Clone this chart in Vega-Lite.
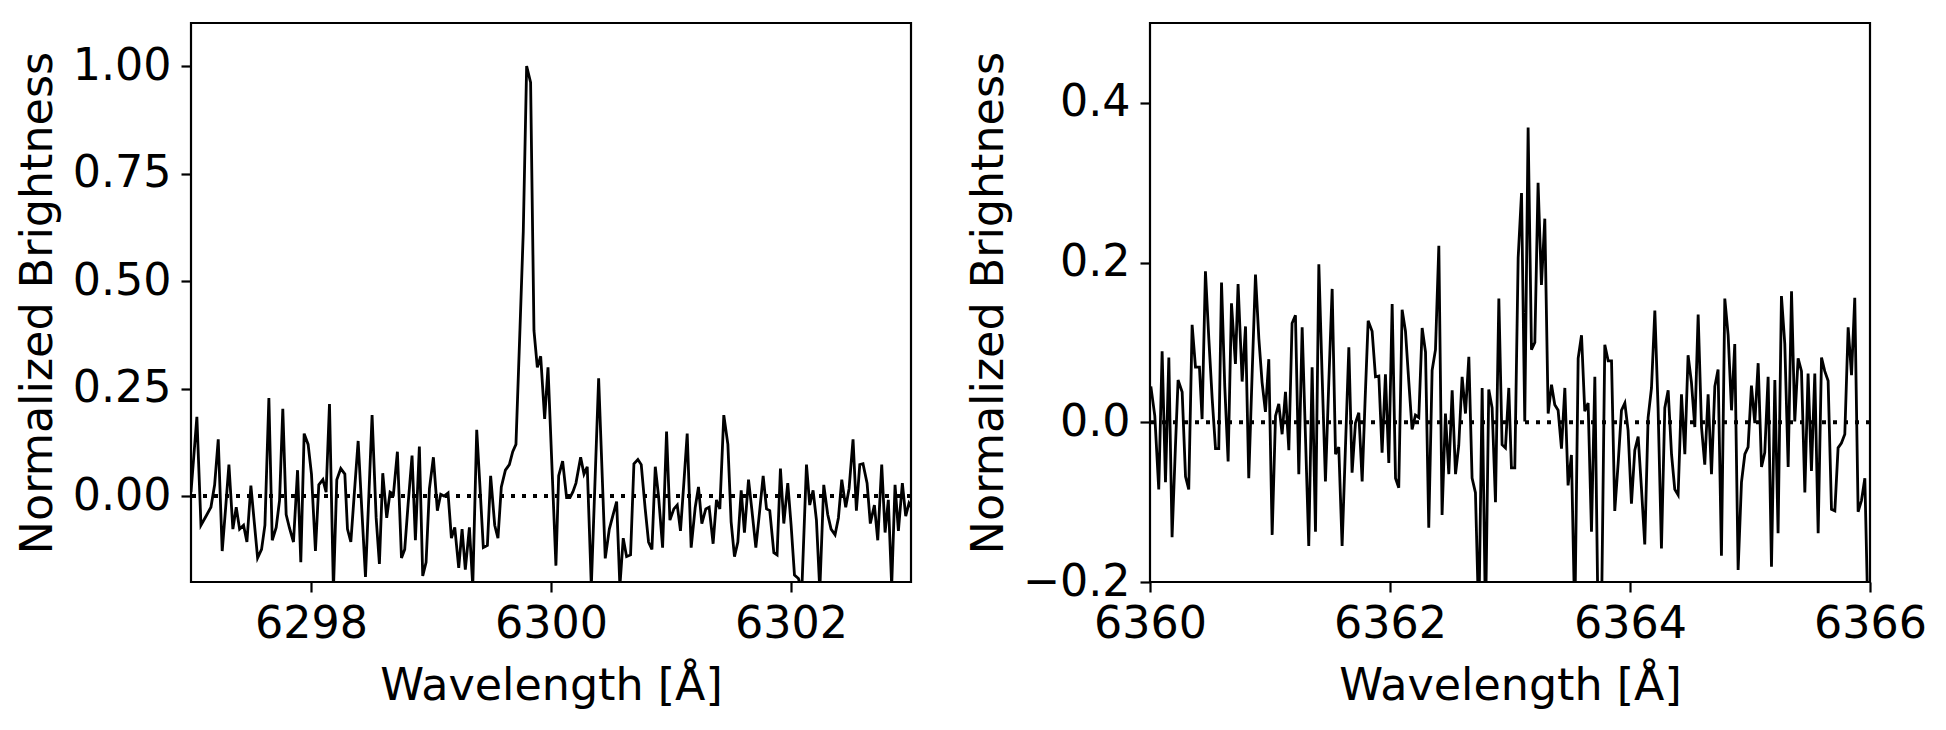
{
  "$schema": "https://vega.github.io/schema/vega-lite/v6.json",
  "padding": {"left": 14, "top": 21, "right": 5, "bottom": 5},
  "background": "white",
  "config": {
    "font": "DejaVu Sans",
    "view": {"stroke": "black", "strokeWidth": 2.2},
    "axis": {
      "grid": false, "domain": false,
      "labelFont": "DejaVu Sans", "titleFont": "DejaVu Sans",
      "labelFontSize": 44.4, "titleFontSize": 44.4, "titleFontWeight": "normal",
      "labelColor": "black", "titleColor": "black",
      "tickColor": "black", "tickSize": 10, "tickWidth": 2.2,
      "labelFlush": false, "labelOverlap": false
    },
    "axisX": {"labelPadding": 10, "titlePadding": 19},
    "axisY": {"labelPadding": 10, "titlePadding": 11}
  },
  "datasets": {
    "left": [
      {"wavelength": 6297.000, "brightness": 0.009},
      {"wavelength": 6297.049, "brightness": 0.184},
      {"wavelength": 6297.083, "brightness": -0.068},
      {"wavelength": 6297.125, "brightness": -0.047},
      {"wavelength": 6297.166, "brightness": -0.026},
      {"wavelength": 6297.197, "brightness": 0.026},
      {"wavelength": 6297.227, "brightness": 0.132},
      {"wavelength": 6297.260, "brightness": -0.128},
      {"wavelength": 6297.288, "brightness": -0.03},
      {"wavelength": 6297.316, "brightness": 0.073},
      {"wavelength": 6297.349, "brightness": -0.077},
      {"wavelength": 6297.377, "brightness": -0.026},
      {"wavelength": 6297.405, "brightness": -0.077},
      {"wavelength": 6297.438, "brightness": -0.068},
      {"wavelength": 6297.466, "brightness": -0.107},
      {"wavelength": 6297.499, "brightness": 0.024},
      {"wavelength": 6297.527, "brightness": -0.06},
      {"wavelength": 6297.555, "brightness": -0.144},
      {"wavelength": 6297.588, "brightness": -0.124},
      {"wavelength": 6297.616, "brightness": -0.068},
      {"wavelength": 6297.649, "brightness": 0.228},
      {"wavelength": 6297.677, "brightness": -0.103},
      {"wavelength": 6297.710, "brightness": -0.073},
      {"wavelength": 6297.738, "brightness": -0.01},
      {"wavelength": 6297.765, "brightness": 0.203},
      {"wavelength": 6297.793, "brightness": -0.043},
      {"wavelength": 6297.821, "brightness": -0.075},
      {"wavelength": 6297.854, "brightness": -0.107},
      {"wavelength": 6297.888, "brightness": 0.06},
      {"wavelength": 6297.915, "brightness": -0.154},
      {"wavelength": 6297.943, "brightness": 0.145},
      {"wavelength": 6297.976, "brightness": 0.12},
      {"wavelength": 6298.004, "brightness": 0.051},
      {"wavelength": 6298.037, "brightness": -0.128},
      {"wavelength": 6298.065, "brightness": 0.026},
      {"wavelength": 6298.099, "brightness": 0.038},
      {"wavelength": 6298.126, "brightness": 0.009},
      {"wavelength": 6298.154, "brightness": 0.214},
      {"wavelength": 6298.187, "brightness": -0.22},
      {"wavelength": 6298.215, "brightness": 0.038},
      {"wavelength": 6298.248, "brightness": 0.064},
      {"wavelength": 6298.282, "brightness": 0.051},
      {"wavelength": 6298.304, "brightness": -0.077},
      {"wavelength": 6298.332, "brightness": -0.107},
      {"wavelength": 6298.362, "brightness": 0.01},
      {"wavelength": 6298.393, "brightness": 0.128},
      {"wavelength": 6298.423, "brightness": -0.03},
      {"wavelength": 6298.454, "brightness": -0.188},
      {"wavelength": 6298.482, "brightness": 0.0},
      {"wavelength": 6298.509, "brightness": 0.188},
      {"wavelength": 6298.543, "brightness": -0.051},
      {"wavelength": 6298.570, "brightness": -0.158},
      {"wavelength": 6298.598, "brightness": 0.053},
      {"wavelength": 6298.631, "brightness": -0.051},
      {"wavelength": 6298.659, "brightness": 0.009},
      {"wavelength": 6298.687, "brightness": 0.004},
      {"wavelength": 6298.720, "brightness": 0.103},
      {"wavelength": 6298.754, "brightness": -0.144},
      {"wavelength": 6298.781, "brightness": -0.124},
      {"wavelength": 6298.809, "brightness": -0.02},
      {"wavelength": 6298.842, "brightness": 0.094},
      {"wavelength": 6298.870, "brightness": -0.103},
      {"wavelength": 6298.903, "brightness": 0.115},
      {"wavelength": 6298.931, "brightness": -0.186},
      {"wavelength": 6298.959, "brightness": -0.154},
      {"wavelength": 6298.987, "brightness": 0.017},
      {"wavelength": 6299.020, "brightness": 0.09},
      {"wavelength": 6299.053, "brightness": -0.034},
      {"wavelength": 6299.081, "brightness": 0.004},
      {"wavelength": 6299.109, "brightness": 0.0},
      {"wavelength": 6299.142, "brightness": 0.007},
      {"wavelength": 6299.170, "brightness": -0.098},
      {"wavelength": 6299.198, "brightness": -0.073},
      {"wavelength": 6299.231, "brightness": -0.167},
      {"wavelength": 6299.259, "brightness": -0.077},
      {"wavelength": 6299.286, "brightness": -0.171},
      {"wavelength": 6299.320, "brightness": -0.073},
      {"wavelength": 6299.348, "brightness": -0.21},
      {"wavelength": 6299.381, "brightness": 0.154},
      {"wavelength": 6299.409, "brightness": 0.017},
      {"wavelength": 6299.436, "brightness": -0.12},
      {"wavelength": 6299.470, "brightness": -0.115},
      {"wavelength": 6299.497, "brightness": 0.047},
      {"wavelength": 6299.531, "brightness": -0.068},
      {"wavelength": 6299.558, "brightness": -0.098},
      {"wavelength": 6299.586, "brightness": 0.021},
      {"wavelength": 6299.620, "brightness": 0.06},
      {"wavelength": 6299.653, "brightness": 0.073},
      {"wavelength": 6299.681, "brightness": 0.103},
      {"wavelength": 6299.708, "brightness": 0.12},
      {"wavelength": 6299.742, "brightness": 0.393},
      {"wavelength": 6299.769, "brightness": 0.615},
      {"wavelength": 6299.797, "brightness": 1.0},
      {"wavelength": 6299.830, "brightness": 0.962},
      {"wavelength": 6299.858, "brightness": 0.385},
      {"wavelength": 6299.886, "brightness": 0.299},
      {"wavelength": 6299.914, "brightness": 0.325},
      {"wavelength": 6299.947, "brightness": 0.179},
      {"wavelength": 6299.975, "brightness": 0.299},
      {"wavelength": 6300.041, "brightness": -0.162},
      {"wavelength": 6300.064, "brightness": 0.047},
      {"wavelength": 6300.097, "brightness": 0.081},
      {"wavelength": 6300.130, "brightness": -0.004},
      {"wavelength": 6300.158, "brightness": -0.004},
      {"wavelength": 6300.183, "brightness": 0.01},
      {"wavelength": 6300.208, "brightness": 0.03},
      {"wavelength": 6300.247, "brightness": 0.09},
      {"wavelength": 6300.275, "brightness": 0.051},
      {"wavelength": 6300.302, "brightness": 0.068},
      {"wavelength": 6300.336, "brightness": -0.21},
      {"wavelength": 6300.397, "brightness": 0.274},
      {"wavelength": 6300.452, "brightness": -0.145},
      {"wavelength": 6300.486, "brightness": -0.077},
      {"wavelength": 6300.516, "brightness": -0.045},
      {"wavelength": 6300.547, "brightness": -0.013},
      {"wavelength": 6300.574, "brightness": -0.21},
      {"wavelength": 6300.602, "brightness": -0.098},
      {"wavelength": 6300.630, "brightness": -0.141},
      {"wavelength": 6300.663, "brightness": -0.137},
      {"wavelength": 6300.691, "brightness": 0.075},
      {"wavelength": 6300.724, "brightness": 0.085},
      {"wavelength": 6300.752, "brightness": 0.073},
      {"wavelength": 6300.785, "brightness": -0.03},
      {"wavelength": 6300.813, "brightness": -0.107},
      {"wavelength": 6300.841, "brightness": -0.124},
      {"wavelength": 6300.869, "brightness": 0.068},
      {"wavelength": 6300.896, "brightness": 0.0},
      {"wavelength": 6300.930, "brightness": -0.12},
      {"wavelength": 6300.963, "brightness": 0.15},
      {"wavelength": 6300.991, "brightness": -0.056},
      {"wavelength": 6301.024, "brightness": -0.03},
      {"wavelength": 6301.052, "brightness": -0.021},
      {"wavelength": 6301.079, "brightness": -0.081},
      {"wavelength": 6301.107, "brightness": 0.03},
      {"wavelength": 6301.135, "brightness": 0.145},
      {"wavelength": 6301.168, "brightness": -0.12},
      {"wavelength": 6301.202, "brightness": -0.026},
      {"wavelength": 6301.229, "brightness": 0.021},
      {"wavelength": 6301.257, "brightness": -0.064},
      {"wavelength": 6301.290, "brightness": -0.03},
      {"wavelength": 6301.318, "brightness": -0.026},
      {"wavelength": 6301.351, "brightness": -0.111},
      {"wavelength": 6301.379, "brightness": -0.009},
      {"wavelength": 6301.407, "brightness": -0.03},
      {"wavelength": 6301.440, "brightness": 0.188},
      {"wavelength": 6301.474, "brightness": 0.12},
      {"wavelength": 6301.501, "brightness": -0.06},
      {"wavelength": 6301.529, "brightness": -0.141},
      {"wavelength": 6301.557, "brightness": -0.107},
      {"wavelength": 6301.585, "brightness": 0.013},
      {"wavelength": 6301.612, "brightness": -0.085},
      {"wavelength": 6301.646, "brightness": 0.038},
      {"wavelength": 6301.673, "brightness": -0.03},
      {"wavelength": 6301.707, "brightness": -0.12},
      {"wavelength": 6301.737, "brightness": -0.04},
      {"wavelength": 6301.768, "brightness": 0.047},
      {"wavelength": 6301.796, "brightness": -0.03},
      {"wavelength": 6301.823, "brightness": -0.034},
      {"wavelength": 6301.857, "brightness": -0.132},
      {"wavelength": 6301.884, "brightness": -0.137},
      {"wavelength": 6301.912, "brightness": 0.064},
      {"wavelength": 6301.940, "brightness": -0.064},
      {"wavelength": 6301.973, "brightness": 0.03},
      {"wavelength": 6302.001, "brightness": -0.068},
      {"wavelength": 6302.029, "brightness": -0.184},
      {"wavelength": 6302.062, "brightness": -0.192},
      {"wavelength": 6302.090, "brightness": -0.22},
      {"wavelength": 6302.129, "brightness": 0.073},
      {"wavelength": 6302.156, "brightness": -0.021},
      {"wavelength": 6302.184, "brightness": 0.013},
      {"wavelength": 6302.212, "brightness": -0.056},
      {"wavelength": 6302.240, "brightness": -0.22},
      {"wavelength": 6302.273, "brightness": 0.026},
      {"wavelength": 6302.306, "brightness": -0.043},
      {"wavelength": 6302.334, "brightness": -0.077},
      {"wavelength": 6302.367, "brightness": -0.09},
      {"wavelength": 6302.395, "brightness": -0.051},
      {"wavelength": 6302.423, "brightness": 0.038},
      {"wavelength": 6302.456, "brightness": -0.026},
      {"wavelength": 6302.484, "brightness": 0.017},
      {"wavelength": 6302.517, "brightness": 0.132},
      {"wavelength": 6302.545, "brightness": -0.034},
      {"wavelength": 6302.573, "brightness": 0.073},
      {"wavelength": 6302.600, "brightness": 0.075},
      {"wavelength": 6302.634, "brightness": 0.03},
      {"wavelength": 6302.661, "brightness": -0.064},
      {"wavelength": 6302.695, "brightness": -0.021},
      {"wavelength": 6302.723, "brightness": -0.103},
      {"wavelength": 6302.756, "brightness": 0.073},
      {"wavelength": 6302.784, "brightness": -0.085},
      {"wavelength": 6302.811, "brightness": -0.009},
      {"wavelength": 6302.839, "brightness": -0.21},
      {"wavelength": 6302.867, "brightness": 0.026},
      {"wavelength": 6302.895, "brightness": -0.081},
      {"wavelength": 6302.928, "brightness": 0.03},
      {"wavelength": 6302.956, "brightness": -0.047},
      {"wavelength": 6302.983, "brightness": -0.017},
      {"wavelength": 6303.010, "brightness": -0.03}
    ],
    "right": [
      {"wavelength": 6360.007, "brightness": 0.045},
      {"wavelength": 6360.040, "brightness": 0.008},
      {"wavelength": 6360.073, "brightness": -0.084},
      {"wavelength": 6360.101, "brightness": 0.089},
      {"wavelength": 6360.129, "brightness": -0.075},
      {"wavelength": 6360.157, "brightness": 0.081},
      {"wavelength": 6360.184, "brightness": -0.144},
      {"wavelength": 6360.212, "brightness": -0.03},
      {"wavelength": 6360.234, "brightness": 0.053},
      {"wavelength": 6360.268, "brightness": 0.038},
      {"wavelength": 6360.296, "brightness": -0.068},
      {"wavelength": 6360.323, "brightness": -0.084},
      {"wavelength": 6360.351, "brightness": 0.122},
      {"wavelength": 6360.379, "brightness": 0.069},
      {"wavelength": 6360.412, "brightness": 0.069},
      {"wavelength": 6360.434, "brightness": 0.004},
      {"wavelength": 6360.462, "brightness": 0.189},
      {"wavelength": 6360.490, "brightness": 0.105},
      {"wavelength": 6360.518, "brightness": 0.03},
      {"wavelength": 6360.546, "brightness": -0.033},
      {"wavelength": 6360.573, "brightness": -0.033},
      {"wavelength": 6360.596, "brightness": 0.175},
      {"wavelength": 6360.623, "brightness": 0.045},
      {"wavelength": 6360.651, "brightness": -0.049},
      {"wavelength": 6360.679, "brightness": 0.149},
      {"wavelength": 6360.712, "brightness": 0.073},
      {"wavelength": 6360.734, "brightness": 0.173},
      {"wavelength": 6360.768, "brightness": 0.051},
      {"wavelength": 6360.796, "brightness": 0.12},
      {"wavelength": 6360.823, "brightness": -0.07},
      {"wavelength": 6360.851, "brightness": 0.06},
      {"wavelength": 6360.879, "brightness": 0.185},
      {"wavelength": 6360.907, "brightness": 0.105},
      {"wavelength": 6360.934, "brightness": 0.05},
      {"wavelength": 6360.962, "brightness": 0.013},
      {"wavelength": 6360.990, "brightness": 0.079},
      {"wavelength": 6361.018, "brightness": -0.141},
      {"wavelength": 6361.046, "brightness": 0.008},
      {"wavelength": 6361.073, "brightness": 0.023},
      {"wavelength": 6361.101, "brightness": -0.015},
      {"wavelength": 6361.129, "brightness": 0.038},
      {"wavelength": 6361.157, "brightness": -0.035},
      {"wavelength": 6361.184, "brightness": 0.124},
      {"wavelength": 6361.212, "brightness": 0.134},
      {"wavelength": 6361.240, "brightness": -0.065},
      {"wavelength": 6361.268, "brightness": 0.119},
      {"wavelength": 6361.296, "brightness": -0.02},
      {"wavelength": 6361.323, "brightness": -0.155},
      {"wavelength": 6361.351, "brightness": 0.069},
      {"wavelength": 6361.379, "brightness": -0.137},
      {"wavelength": 6361.407, "brightness": 0.198},
      {"wavelength": 6361.434, "brightness": 0.06},
      {"wavelength": 6361.462, "brightness": -0.074},
      {"wavelength": 6361.490, "brightness": 0.05},
      {"wavelength": 6361.518, "brightness": 0.167},
      {"wavelength": 6361.546, "brightness": -0.04},
      {"wavelength": 6361.573, "brightness": -0.031},
      {"wavelength": 6361.601, "brightness": -0.155},
      {"wavelength": 6361.629, "brightness": -0.03},
      {"wavelength": 6361.657, "brightness": 0.094},
      {"wavelength": 6361.684, "brightness": -0.063},
      {"wavelength": 6361.712, "brightness": -0.001},
      {"wavelength": 6361.740, "brightness": 0.012},
      {"wavelength": 6361.768, "brightness": -0.074},
      {"wavelength": 6361.793, "brightness": 0.03},
      {"wavelength": 6361.818, "brightness": 0.127},
      {"wavelength": 6361.851, "brightness": 0.114},
      {"wavelength": 6361.879, "brightness": 0.057},
      {"wavelength": 6361.907, "brightness": 0.058},
      {"wavelength": 6361.934, "brightness": -0.038},
      {"wavelength": 6361.962, "brightness": 0.06},
      {"wavelength": 6361.990, "brightness": -0.051},
      {"wavelength": 6362.018, "brightness": 0.148},
      {"wavelength": 6362.046, "brightness": -0.07},
      {"wavelength": 6362.073, "brightness": -0.082},
      {"wavelength": 6362.101, "brightness": 0.141},
      {"wavelength": 6362.129, "brightness": 0.114},
      {"wavelength": 6362.157, "brightness": 0.05},
      {"wavelength": 6362.184, "brightness": -0.009},
      {"wavelength": 6362.212, "brightness": 0.009},
      {"wavelength": 6362.240, "brightness": 0.006},
      {"wavelength": 6362.268, "brightness": 0.118},
      {"wavelength": 6362.296, "brightness": 0.088},
      {"wavelength": 6362.323, "brightness": -0.132},
      {"wavelength": 6362.351, "brightness": 0.065},
      {"wavelength": 6362.379, "brightness": 0.091},
      {"wavelength": 6362.407, "brightness": 0.221},
      {"wavelength": 6362.434, "brightness": -0.116},
      {"wavelength": 6362.462, "brightness": 0.011},
      {"wavelength": 6362.490, "brightness": -0.065},
      {"wavelength": 6362.518, "brightness": 0.04},
      {"wavelength": 6362.546, "brightness": -0.065},
      {"wavelength": 6362.573, "brightness": -0.029},
      {"wavelength": 6362.601, "brightness": 0.057},
      {"wavelength": 6362.629, "brightness": 0.011},
      {"wavelength": 6362.657, "brightness": 0.082},
      {"wavelength": 6362.684, "brightness": -0.07},
      {"wavelength": 6362.712, "brightness": -0.088},
      {"wavelength": 6362.740, "brightness": -0.25},
      {"wavelength": 6362.768, "brightness": 0.043},
      {"wavelength": 6362.796, "brightness": -0.25},
      {"wavelength": 6362.823, "brightness": 0.041},
      {"wavelength": 6362.851, "brightness": 0.018},
      {"wavelength": 6362.879, "brightness": -0.1},
      {"wavelength": 6362.907, "brightness": 0.155},
      {"wavelength": 6362.934, "brightness": -0.028},
      {"wavelength": 6362.962, "brightness": -0.032},
      {"wavelength": 6362.990, "brightness": 0.043},
      {"wavelength": 6363.012, "brightness": -0.057},
      {"wavelength": 6363.040, "brightness": -0.057},
      {"wavelength": 6363.068, "brightness": 0.206},
      {"wavelength": 6363.096, "brightness": 0.287},
      {"wavelength": 6363.123, "brightness": 0.001},
      {"wavelength": 6363.151, "brightness": 0.369},
      {"wavelength": 6363.179, "brightness": 0.091},
      {"wavelength": 6363.207, "brightness": 0.1},
      {"wavelength": 6363.234, "brightness": 0.3},
      {"wavelength": 6363.262, "brightness": 0.172},
      {"wavelength": 6363.290, "brightness": 0.255},
      {"wavelength": 6363.318, "brightness": 0.011},
      {"wavelength": 6363.346, "brightness": 0.047},
      {"wavelength": 6363.373, "brightness": 0.022},
      {"wavelength": 6363.401, "brightness": 0.015},
      {"wavelength": 6363.429, "brightness": -0.033},
      {"wavelength": 6363.457, "brightness": 0.043},
      {"wavelength": 6363.484, "brightness": -0.079},
      {"wavelength": 6363.512, "brightness": -0.041},
      {"wavelength": 6363.540, "brightness": -0.25},
      {"wavelength": 6363.568, "brightness": 0.08},
      {"wavelength": 6363.596, "brightness": 0.109},
      {"wavelength": 6363.623, "brightness": 0.014},
      {"wavelength": 6363.651, "brightness": 0.024},
      {"wavelength": 6363.679, "brightness": -0.137},
      {"wavelength": 6363.707, "brightness": 0.057},
      {"wavelength": 6363.734, "brightness": -0.25},
      {"wavelength": 6363.762, "brightness": -0.25},
      {"wavelength": 6363.790, "brightness": 0.097},
      {"wavelength": 6363.818, "brightness": 0.077},
      {"wavelength": 6363.846, "brightness": 0.077},
      {"wavelength": 6363.873, "brightness": -0.111},
      {"wavelength": 6363.901, "brightness": -0.052},
      {"wavelength": 6363.929, "brightness": 0.015},
      {"wavelength": 6363.957, "brightness": 0.024},
      {"wavelength": 6363.984, "brightness": -0.01},
      {"wavelength": 6364.012, "brightness": -0.102},
      {"wavelength": 6364.040, "brightness": -0.035},
      {"wavelength": 6364.068, "brightness": -0.018},
      {"wavelength": 6364.096, "brightness": -0.084},
      {"wavelength": 6364.123, "brightness": -0.153},
      {"wavelength": 6364.151, "brightness": 0.006},
      {"wavelength": 6364.179, "brightness": 0.043},
      {"wavelength": 6364.207, "brightness": 0.14},
      {"wavelength": 6364.234, "brightness": 0.018},
      {"wavelength": 6364.262, "brightness": -0.158},
      {"wavelength": 6364.290, "brightness": 0.018},
      {"wavelength": 6364.318, "brightness": 0.04},
      {"wavelength": 6364.346, "brightness": -0.04},
      {"wavelength": 6364.373, "brightness": -0.084},
      {"wavelength": 6364.401, "brightness": -0.091},
      {"wavelength": 6364.429, "brightness": 0.035},
      {"wavelength": 6364.457, "brightness": -0.04},
      {"wavelength": 6364.484, "brightness": 0.084},
      {"wavelength": 6364.512, "brightness": 0.05},
      {"wavelength": 6364.540, "brightness": -0.006},
      {"wavelength": 6364.568, "brightness": 0.135},
      {"wavelength": 6364.596, "brightness": -0.006},
      {"wavelength": 6364.623, "brightness": -0.053},
      {"wavelength": 6364.651, "brightness": 0.035},
      {"wavelength": 6364.679, "brightness": -0.065},
      {"wavelength": 6364.707, "brightness": 0.045},
      {"wavelength": 6364.734, "brightness": 0.066},
      {"wavelength": 6364.762, "brightness": -0.167},
      {"wavelength": 6364.790, "brightness": 0.155},
      {"wavelength": 6364.818, "brightness": 0.109},
      {"wavelength": 6364.846, "brightness": 0.015},
      {"wavelength": 6364.873, "brightness": 0.098},
      {"wavelength": 6364.901, "brightness": -0.185},
      {"wavelength": 6364.929, "brightness": -0.075},
      {"wavelength": 6364.957, "brightness": -0.04},
      {"wavelength": 6364.984, "brightness": -0.031},
      {"wavelength": 6365.012, "brightness": 0.046},
      {"wavelength": 6365.040, "brightness": -0.001},
      {"wavelength": 6365.068, "brightness": 0.074},
      {"wavelength": 6365.096, "brightness": -0.056},
      {"wavelength": 6365.123, "brightness": -0.038},
      {"wavelength": 6365.151, "brightness": 0.057},
      {"wavelength": 6365.179, "brightness": -0.181},
      {"wavelength": 6365.207, "brightness": 0.053},
      {"wavelength": 6365.234, "brightness": -0.139},
      {"wavelength": 6365.262, "brightness": 0.158},
      {"wavelength": 6365.290, "brightness": 0.098},
      {"wavelength": 6365.318, "brightness": -0.056},
      {"wavelength": 6365.346, "brightness": 0.164},
      {"wavelength": 6365.373, "brightness": 0.001},
      {"wavelength": 6365.401, "brightness": 0.08},
      {"wavelength": 6365.429, "brightness": 0.064},
      {"wavelength": 6365.457, "brightness": -0.088},
      {"wavelength": 6365.484, "brightness": 0.061},
      {"wavelength": 6365.512, "brightness": -0.061},
      {"wavelength": 6365.540, "brightness": 0.061},
      {"wavelength": 6365.568, "brightness": -0.139},
      {"wavelength": 6365.596, "brightness": 0.081},
      {"wavelength": 6365.623, "brightness": 0.064},
      {"wavelength": 6365.651, "brightness": 0.052},
      {"wavelength": 6365.679, "brightness": -0.109},
      {"wavelength": 6365.707, "brightness": -0.111},
      {"wavelength": 6365.734, "brightness": -0.032},
      {"wavelength": 6365.762, "brightness": -0.026},
      {"wavelength": 6365.790, "brightness": -0.015},
      {"wavelength": 6365.818, "brightness": 0.119},
      {"wavelength": 6365.846, "brightness": 0.059},
      {"wavelength": 6365.873, "brightness": 0.156},
      {"wavelength": 6365.901, "brightness": -0.112},
      {"wavelength": 6365.929, "brightness": -0.098},
      {"wavelength": 6365.957, "brightness": -0.07},
      {"wavelength": 6365.984, "brightness": -0.25},
      {"wavelength": 6366.012, "brightness": -0.3}
    ]
  },
  "hconcat": [
    {
      "width": 720, "height": 559,
      "layer": [
        {
          "data": {"name": "left"},
          "mark": {"type": "line", "color": "black", "strokeWidth": 2.8, "clip": true},
          "encoding": {
            "x": {"field": "wavelength", "type": "quantitative",
                  "scale": {"domain": [6297, 6303], "nice": false, "zero": false},
                  "axis": {"title": "Wavelength [Å]", "values": [6298, 6300, 6302], "format": "d"}},
            "y": {"field": "brightness", "type": "quantitative",
                  "scale": {"domain": [-0.2, 1.1], "nice": false, "zero": false},
                  "axis": {"title": "Normalized Brightness", "values": [0, 0.25, 0.5, 0.75, 1.0], "format": ".2f", "titlePadding": 11.3}}
          }
        },
        {
          "data": {"values": [{}]},
          "mark": {"type": "rule", "color": "black", "strokeWidth": 4, "strokeDash": [4, 7]},
          "encoding": {"y": {"datum": 0}}
        }
      ]
    },
    {
      "width": 720, "height": 559,
      "layer": [
        {
          "data": {"name": "right"},
          "mark": {"type": "line", "color": "black", "strokeWidth": 2.8, "clip": true},
          "encoding": {
            "x": {"field": "wavelength", "type": "quantitative",
                  "scale": {"domain": [6360, 6366], "nice": false, "zero": false},
                  "axis": {"title": "Wavelength [Å]", "values": [6360, 6362, 6364, 6366], "format": "d"}},
            "y": {"field": "brightness", "type": "quantitative",
                  "scale": {"domain": [-0.2, 0.5], "nice": false, "zero": false},
                  "axis": {"title": "Normalized Brightness", "values": [-0.2, 0, 0.2, 0.4], "format": ".1f", "titlePadding": 10.5}}
          }
        },
        {
          "data": {"values": [{}]},
          "mark": {"type": "rule", "color": "black", "strokeWidth": 4, "strokeDash": [4, 7]},
          "encoding": {"y": {"datum": 0}}
        }
      ]
    }
  ],
  "spacing": 50
}
